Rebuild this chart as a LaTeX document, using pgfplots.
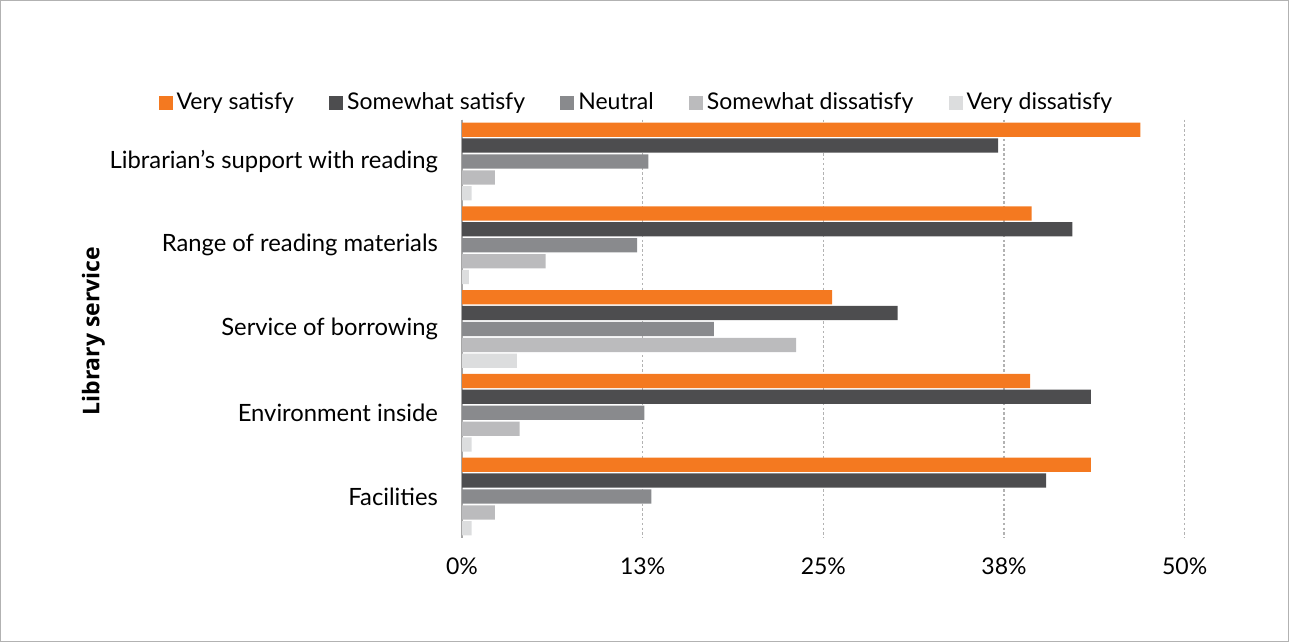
\documentclass[border=0pt]{standalone}
\usepackage{fontspec}
\setmainfont{Lato}
\newfontfamily\labfont{Open Sans}
\usepackage{pgfplots}
\usepackage{pgfplotstable}
\pgfplotsset{compat=1.18}
\definecolor{c1}{HTML}{F47920}
\definecolor{c2}{HTML}{4D4D4F}
\definecolor{c3}{HTML}{898A8D}
\definecolor{c4}{HTML}{BBBBBD}
\definecolor{c5}{HTML}{DCDDDE}
\pgfplotstableread{
y vs ss n sd vd
0 46.94 37.09 12.89 2.28 0.67
1 39.41 42.22 12.11 5.79 0.48
2 25.60 30.13 17.42 23.11 3.80
3 39.30 43.51 12.62 3.99 0.67
4 43.51 40.42 13.10 2.28 0.67
}\data
\begin{document}
\begin{tikzpicture}
\useasboundingbox (0,0) rectangle (644.5pt,321pt);
\draw[color=black!30, line width=0.6pt] (0.3pt,0.3pt) rectangle (644.2pt,320.7pt);
\begin{axis}[
  at={(231pt,51.8pt)}, anchor=south west,
  scale only axis, width=361.35pt, height=209.4pt,
  xmin=0, xmax=50, ymin=-0.5, ymax=4.5, y dir=reverse,
  xbar, bar width=0.17,
  xtick={0,12.5,25,37.5,50}, xticklabels={0\%,13\%,25\%,38\%,50\%},
  ytick={0,1,2,3,4},
  yticklabels={Librarian’s support with reading,Range of reading materials,Service of borrowing,Environment inside,Facilities},
  axis lines*=left,
  x axis line style={draw=none},
  y axis line style={draw=black!35, line width=1pt},
  major tick length=0pt,
  xmajorgrids, grid style={draw=black!30, line width=0.6pt, dash pattern=on 1.2pt off 1.2pt},
  tick label style={font=\fontsize{11.5}{13}\selectfont},
  /pgf/number format/assume math mode=true,
  yticklabel style={xshift=-8.5pt, font=\fontsize{11.9}{13}\selectfont},
  xticklabel style={yshift=-6pt},
  ylabel={\labfont\bfseries Library service},
  ylabel style={at={(axis description cs:-0.51,0.495)}, anchor=center, font=\fontsize{11.5}{13}\selectfont},
  legend style={at={(axis description cs:-0.4288,1.04)}, anchor=west, draw=none, fill=none,
    legend columns=-1, font=\fontsize{11.5}{13}\selectfont,
    /tikz/every even column/.append style={column sep=15.6pt}},
  legend image code/.code={\fill[#1, draw=none] (0pt,-3.5pt) rectangle (7pt,3.5pt);},
]
\addplot[fill=c1, draw=none, bar shift=-0.38] table[x=vs,y=y] {\data};
\addplot[fill=c2, draw=none, bar shift=-0.19] table[x=ss,y=y] {\data};
\addplot[fill=c3, draw=none, bar shift=0] table[x=n,y=y] {\data};
\addplot[fill=c4, draw=none, bar shift=0.19] table[x=sd,y=y] {\data};
\addplot[fill=c5, draw=none, bar shift=0.38] table[x=vd,y=y] {\data};
\legend{Very satisfy,Somewhat satisfy,Neutral,Somewhat dissatisfy,Very dissatisfy}
\end{axis}
\end{tikzpicture}
\end{document}
